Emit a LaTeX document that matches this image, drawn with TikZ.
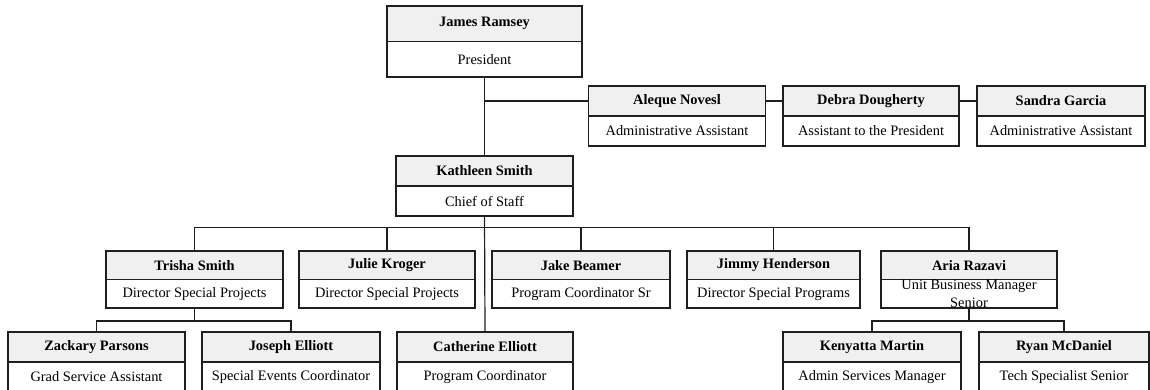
\documentclass[tikz,border=0pt]{standalone}
\usepackage{fontspec}
\setmainfont{Liberation Serif}
\usepackage{tikz}
\usetikzlibrary{calc}
\definecolor{headfill}{rgb}{0.94, 0.94, 0.94}
\definecolor{linegray}{rgb}{0.12, 0.12, 0.12}

\tikzset{
  box/.style={rectangle, inner sep=0pt, outer sep=0pt},
  boxline/.style={draw=linegray, line width=1.2pt},
  link/.style={draw=linegray, line width=1.2pt},
  who/.style={font=\bfseries\fontsize{14.4}{16}\selectfont, inner sep=0pt},
  job/.style={font=\fontsize{14.4}{14}\selectfont, inner sep=0pt, align=center}
}

% id, centre, width, height, name, title
\newcommand{\orgbox}[6]{%
  \node[box, minimum width=#3pt, minimum height=#4pt] (#1) at (#2) {};
  \fill[headfill] (#1.north west) rectangle (#1.east);
  \draw[boxline] (#1.west) -- (#1.east);
  \draw[boxline] (#1.north west) rectangle (#1.south east);
  \node[who] (#1-n) at ($(#1.north)!0.5!(#1.center)$) {#5};
  \node[job] (#1-t) at ($(#1.south)!0.5!(#1.center)$) {#6};
}

\begin{document}
\begin{tikzpicture}[x=1pt, y=-1pt]
            \clip (0,0) rectangle (1150,389);
            \useasboundingbox (0,0) rectangle (1150,389);

            % Top
            \orgbox{pres}{484.5,41.5}{195}{71}{James Ramsey}{President}
            \orgbox{aleque}{677,116}{177}{60}{Aleque Novesl}{Administrative Assistant}
            \orgbox{debra}{871,116}{176}{60}{Debra Dougherty}{Assistant to the President}
            \orgbox{sandra}{1061,116}{168}{60}{Sandra Garcia}{Administrative Assistant}
            \orgbox{kath}{484.5,186}{177}{60}{Kathleen Smith}{Chief of Staff}

            % Second row
            \orgbox{trisha}{194.5,279.5}{177}{57}{Trisha Smith}{Director Special Projects}
            \orgbox{julie}{387,279.5}{176}{57}{Julie Kroger}{Director Special Projects}
            \orgbox{jake}{581,279.5}{178}{57}{Jake Beamer}{Program Coordinator Sr}
            \orgbox{jimmy}{773.5,279.5}{173}{57}{Jimmy Henderson}{Director Special Programs}
            \orgbox{aria}{969,279.5}{176}{57}{Aria Razavi}{\raisebox{-3pt}{\shortstack{Unit Business Manager\\[1.5pt]Senior}}}

            % Third row
            \orgbox{zack}{96.5,362}{177}{60}{Zackary Parsons}{Grad Service Assistant}
            \orgbox{joseph}{291,362}{178}{60}{Joseph Elliott}{Special Events Coordinator}
            \orgbox{cath}{485,362}{176}{60}{Catherine Elliott}{Program Coordinator}
            \orgbox{kenya}{872,362}{178}{60}{Kenyatta Martin}{Admin Services Manager}
            \orgbox{ryan}{1064,362}{170}{60}{Ryan McDaniel}{Tech Specialist Senior}

            % Liens
            \coordinate (bus) at (484.5,227.5);
            \coordinate (tsub) at (194.5,321);
            \coordinate (asub) at (969,321);
            \draw[link] (pres.south) -- (kath.north);
            \draw[link] (pres.south |- aleque-n) -- (aleque.west |- aleque-n);
            \draw[link] (aleque.east |- aleque-n) -- (debra.west |- debra-n);
            \draw[link] (debra.east |- debra-n) -- (sandra.west |- sandra-n);
            \draw[link] (kath.south) -- (cath.north);
            \draw[link] (trisha.north) |- (bus) -| (aria.north);
            \draw[link] (julie.north) -- (julie.north |- bus);
            \draw[link] (jake.north) -- (jake.north |- bus);
            \draw[link] (jimmy.north) -- (jimmy.north |- bus);
            \draw[link] (trisha.south) -- (tsub);
            \draw[link] (zack.north) |- (tsub) -| (joseph.north);
            \draw[link] (aria.south) -- (asub);
            \draw[link] (kenya.north) |- (asub) -| (ryan.north);
\end{tikzpicture}
\end{document}
